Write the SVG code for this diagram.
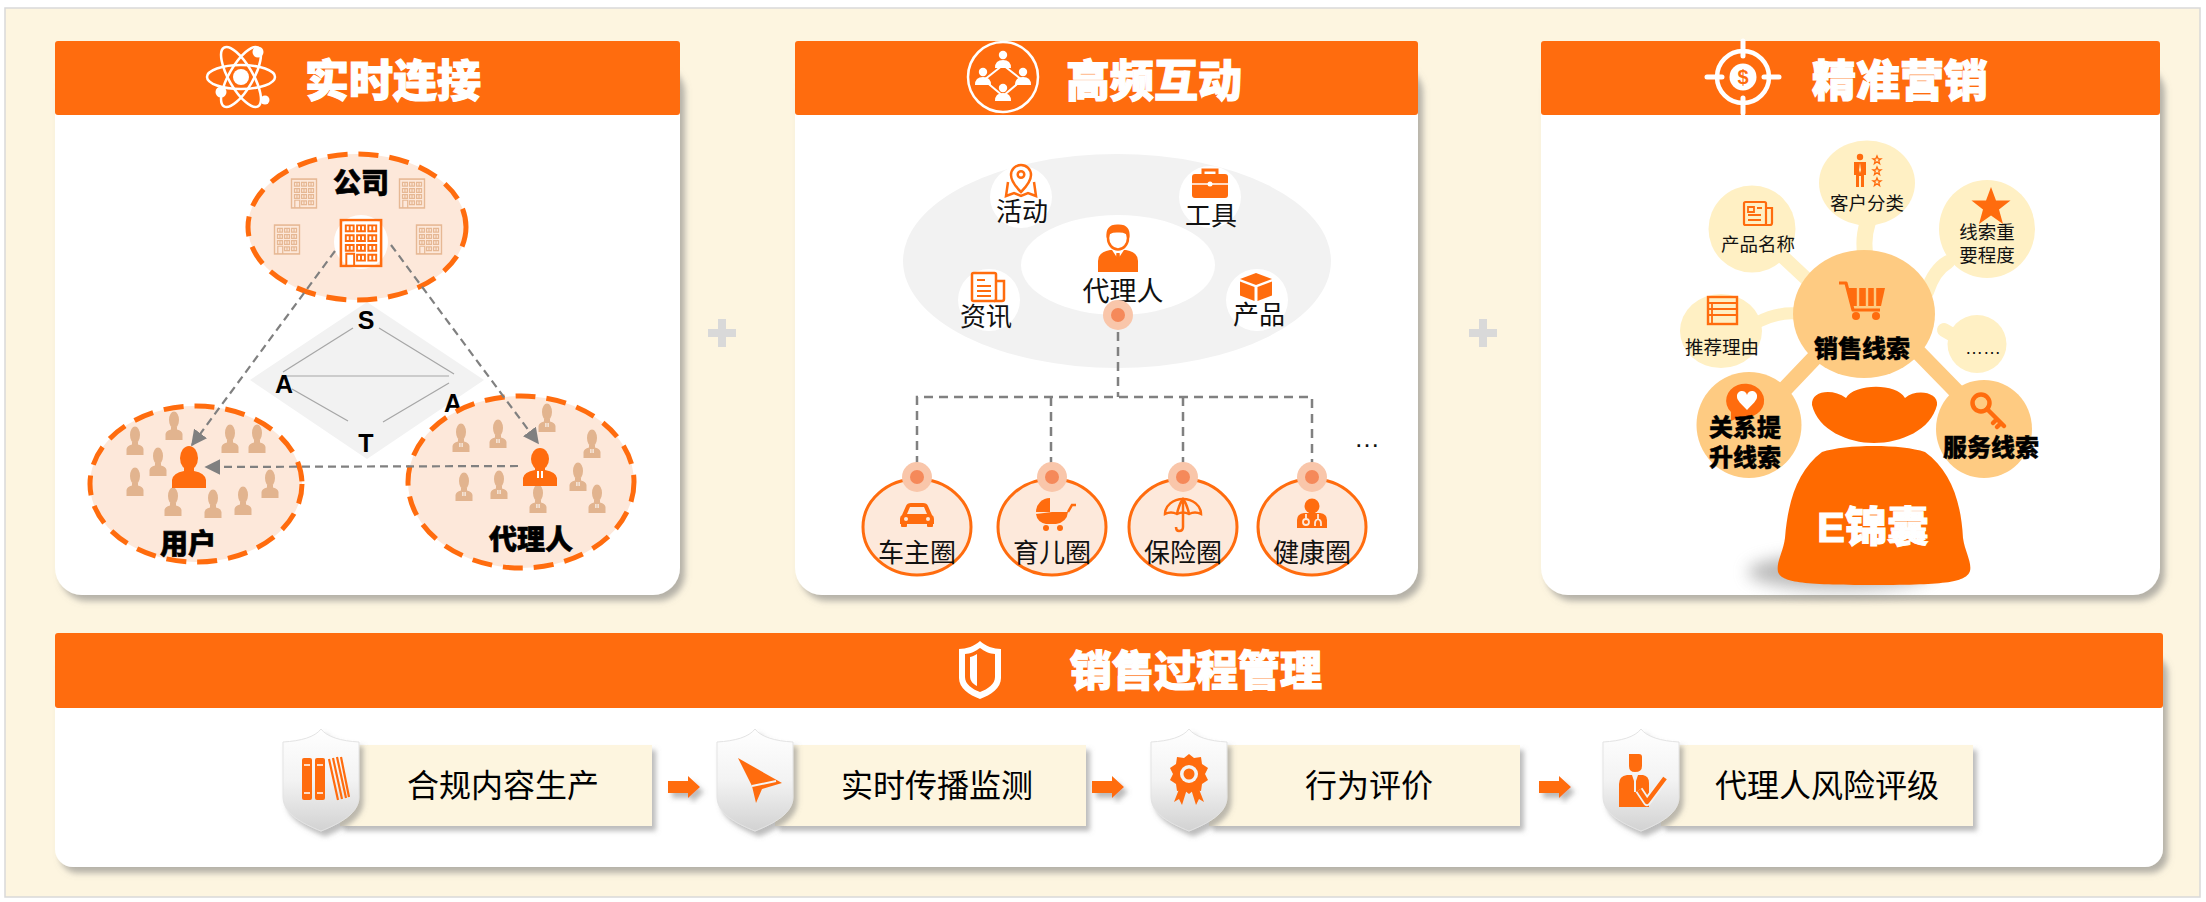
<svg xmlns="http://www.w3.org/2000/svg" width="2206" height="902" viewBox="0 0 2206 902">
<defs>
<style>
text{font-family:'Liberation Sans','Noto Sans CJK SC',sans-serif}
.hdr{fill:#FF6C0E}
.body{fill:#fff}
.ttl{font-size:44px;font-weight:900;fill:#fff;stroke:#fff;stroke-width:1.2;text-anchor:middle}
.lbl{font-size:28px;font-weight:900;fill:#000;stroke:#000;stroke-width:0.6;text-anchor:middle}
.sat{font-size:25px;font-weight:700;fill:#000;text-anchor:middle}
.t26{font-size:26px;fill:#111;text-anchor:middle}
.t18{font-size:18.5px;fill:#111;text-anchor:middle}
.b24{font-size:24px;font-weight:900;fill:#000;stroke:#000;stroke-width:0.4;text-anchor:middle}
.step{font-size:32px;fill:#000;text-anchor:middle}
.grp{fill:#FDE8DA;stroke:#FF6C0E;stroke-width:5;stroke-dasharray:20 11}
.dash{fill:none;stroke:#808080;stroke-width:2.2;stroke-dasharray:8 5}
.tree{fill:none;stroke:#808080;stroke-width:2.5;stroke-dasharray:9 6}
.satln{stroke:#A6A6A6;stroke-width:1.2}
.fp{fill:#E2B48F}
.o{fill:#FF6C0E}
.os{fill:none;stroke:#FF6C0E;stroke-width:2.5}
.w{fill:#fff}
.ws{fill:none;stroke:#fff;stroke-width:2.5}
.bub{fill:#FFF0C4}
.bub2{fill:#FECB82}
.stem{fill:none;stroke:#FFF0C4;stroke-linecap:round}
.stem2{fill:none;stroke:#FECB82;stroke-linecap:round;stroke-width:16}
.ring{fill:#FDE9DB;stroke:#FF6C0E;stroke-width:3}
.dot1{fill:#F9C6AA}
.dot2{fill:#F5895A}
.box{fill:#FDF5DF}
.plus{fill:#D9D9D9}
</style>
<filter id="sh" x="-5%" y="-5%" width="112%" height="118%">
<feDropShadow dx="5" dy="6" stdDeviation="3" flood-color="#7a7a7a" flood-opacity="0.55"/>
</filter>
<filter id="sh2" x="-20%" y="-20%" width="150%" height="150%">
<feDropShadow dx="4" dy="5" stdDeviation="2.5" flood-color="#7a7a7a" flood-opacity="0.5"/>
</filter>
<filter id="blur8" x="-50%" y="-100%" width="200%" height="300%">
<feGaussianBlur stdDeviation="8"/>
</filter>
<linearGradient id="shieldFill" x1="0" y1="0" x2="0" y2="1">
<stop offset="0" stop-color="#FFFFFF"/>
<stop offset="0.5" stop-color="#F3F3F3"/>
<stop offset="1" stop-color="#D2D2D2"/>
</linearGradient>
<marker id="ah" viewBox="0 0 10 10" refX="9" refY="5" markerWidth="16" markerHeight="16" markerUnits="userSpaceOnUse" orient="auto">
<path d="M0,0 L10,5 L0,10 Z" fill="#808080"/>
</marker>
<symbol id="bldg" viewBox="0 0 44 50">
<rect x="1.5" y="1.5" width="41" height="47" fill="none" stroke="currentColor" stroke-width="2.6"/>
<path fill="none" stroke="currentColor" stroke-width="2" d="M6.5 7h8v6h-8zM10.5 7v6M18 7h8v6h-8zM22 7v6M29.5 7h8v6h-8zM33.5 7v6M6.5 17h8v6h-8zM10.5 17v6M18 17h8v6h-8zM22 17v6M29.5 17h8v6h-8zM33.5 17v6M6.5 27h8v6h-8zM10.5 27v6M18 27h8v6h-8zM22 27v6M29.5 27h8v6h-8zM33.5 27v6M18 37h8v6h-8zM22 37v6M29.5 37h8v6h-8zM33.5 37v6M7 48.5V36h8v12.5"/>
</symbol>
<g id="pp" class="fp"><ellipse cx="0" cy="-7" rx="5" ry="8.5"/><path d="M-3,0 V2.5 Q-8,3.5 -8.5,7 V13 H8.5 V7 Q8,3.5 3,2.5 V0 Z"/></g>
<g id="pa"><use href="#pp"/><path d="M-1.6,4 L-0.6,4 L-0.6,8 L-1.6,8 Z M0.6,4 L1.6,4 L1.6,8 L0.6,8 Z" fill="#fff"/></g>
<path id="shield" d="M0,0 C6,8 20,12 38,13 V68 C38,84 20,94 0,102 C-20,94 -38,84 -38,68 V13 C-20,12 -6,8 0,0 Z"/>
<path id="arrow" d="M0,-6 H20 V-11 L32,0 L20,11 V6 H0 Z"/>
</defs>

<!-- page background -->
<rect x="5" y="8" width="2195" height="889" fill="#FDF5E0" stroke="#D9D9D9" stroke-width="1.5"/>

<!-- plus signs between the panels -->
<g id="plus-signs">
<path class="plus" d="M718,319 h8 v10 h10 v8 h-10 v10 h-8 v-10 h-10 v-8 h10 Z"/>
<path class="plus" d="M1479,319 h8 v10 h10 v8 h-10 v10 h-8 v-10 h-10 v-8 h10 Z"/>
</g>

<!-- ===== panel 1 : 实时连接 ===== -->
<g id="panel-connect">
<rect class="body" x="55" y="60" width="625" height="535" rx="27" filter="url(#sh)"/>
<rect class="hdr" x="55" y="41" width="625" height="74" rx="3"/>
<g id="icon-atom" transform="translate(241,77)">
<g class="ws">
<ellipse rx="34" ry="12"/>
<ellipse rx="34" ry="12" transform="rotate(60)"/>
<ellipse rx="34" ry="12" transform="rotate(-60)"/>
</g>
<circle r="8" class="w"/>
<circle cx="17" cy="-25" r="5.5" class="w"/>
<circle cx="-20" cy="15" r="5.5" class="w"/>
<circle cx="24" cy="23" r="4.5" class="w"/>
</g>
<text class="ttl" x="393" y="97">实时连接</text>

<!-- SAT diamond -->
<g id="sat">
<path d="M367,302 L484,380 L367,459 L250,380 Z" fill="#F2F2F2"/>
<line class="satln" x1="353" y1="328" x2="283" y2="372"/>
<line class="satln" x1="379" y1="328" x2="454" y2="374"/>
<line class="satln" x1="286" y1="376" x2="449" y2="376"/>
<line class="satln" x1="292" y1="389" x2="348" y2="421"/>
<line class="satln" x1="449" y1="383" x2="383" y2="422"/>
<text class="sat" x="366" y="329">S</text>
<text class="sat" x="284" y="393">A</text>
<text class="sat" x="453" y="412">A</text>
<text class="sat" x="366" y="452">T</text>
</g>

<g id="node-company">
<ellipse class="grp" cx="357" cy="227" rx="109" ry="73"/>
<use href="#bldg" x="290.5" y="178" width="27" height="31" color="#E6B894"/>
<use href="#bldg" x="398.5" y="178" width="27" height="31" color="#E6B894"/>
<use href="#bldg" x="273.5" y="224" width="27" height="31" color="#E6B894"/>
<use href="#bldg" x="415.5" y="224" width="27" height="31" color="#E6B894"/>
<circle cx="361" cy="242" r="27" fill="#fff"/>
<use href="#bldg" x="339" y="218.5" width="44" height="49" color="#FF6C0E"/>
<text class="lbl" x="361" y="193">公司</text>
</g>

<g id="node-user">
<ellipse class="grp" cx="196" cy="484" rx="106" ry="78"/>
<use href="#pp" x="135" y="442"/>
<use href="#pp" x="174" y="427"/>
<use href="#pp" x="230" y="440"/>
<use href="#pp" x="257" y="440"/>
<use href="#pp" x="158" y="463"/>
<use href="#pp" x="135" y="483"/>
<use href="#pp" x="173" y="503"/>
<use href="#pp" x="213" y="505"/>
<use href="#pp" x="243" y="502"/>
<use href="#pp" x="270" y="485"/>
<g class="o" transform="translate(189,468)">
<ellipse cx="0" cy="-10" rx="9" ry="12"/>
<path d="M-5,0 V3 Q-16,5 -17,12 V20 H17 V12 Q16,5 5,3 V0 Z"/>
</g>
<text class="lbl" x="188" y="554">用户</text>
</g>

<g id="node-agent">
<ellipse class="grp" cx="521" cy="482" rx="113" ry="86"/>
<use href="#pa" x="461" y="439"/>
<use href="#pa" x="498" y="435"/>
<use href="#pa" x="547" y="419"/>
<use href="#pa" x="592" y="445"/>
<use href="#pa" x="464" y="488"/>
<use href="#pa" x="499" y="486"/>
<use href="#pa" x="538" y="500"/>
<use href="#pa" x="578" y="478"/>
<use href="#pa" x="597" y="500"/>
<g transform="translate(540,468)">
<ellipse class="o" cx="0" cy="-9" rx="9" ry="11"/>
<path class="o" d="M-5,0 V2 Q-16,4 -17,10 V18 H17 V10 Q16,4 5,2 V0 Z"/>
<path d="M-3,3 L-1,3 L-1,10 L-3,10 Z M1,3 L3,3 L3,10 L1,10 Z" fill="#fff"/>
</g>
<text class="lbl" x="531" y="550">代理人</text>
</g>

<g id="links-connect">
<line class="dash" x1="335" y1="251" x2="192" y2="445" marker-end="url(#ah)"/>
<line class="dash" x1="391" y1="245" x2="538" y2="443" marker-end="url(#ah)"/>
<line class="dash" x1="518" y1="466" x2="206" y2="467" marker-end="url(#ah)"/>
</g>
</g>

<!-- ===== panel 2 : 高频互动 ===== -->
<g id="panel-interact">
<rect class="body" x="795" y="60" width="623" height="535" rx="27" filter="url(#sh)"/>
<rect class="hdr" x="795" y="41" width="623" height="74" rx="3"/>
<g id="icon-network" transform="translate(1003,77)">
<circle r="35" class="ws"/>
<path d="M0,-12 L-19,3 L0,19 L19,3 Z" fill="none" stroke="#fff" stroke-width="2"/>
<g class="w">
<g transform="translate(0,-17)"><circle cy="-5" r="4.2"/><path d="M-8,8 Q-8,0 0,0 Q8,0 8,8 Z"/></g>
<g transform="translate(-20,0)"><circle cy="-5" r="4.2"/><path d="M-8,8 Q-8,0 0,0 Q8,0 8,8 Z"/></g>
<g transform="translate(20,0)"><circle cy="-5" r="4.2"/><path d="M-8,8 Q-8,0 0,0 Q8,0 8,8 Z"/></g>
<g transform="translate(0,16)"><circle cy="-5" r="4.2"/><path d="M-8,8 Q-8,0 0,0 Q8,0 8,8 Z"/></g>
</g>
</g>
<text class="ttl" x="1154" y="97">高频互动</text>

<ellipse cx="1117" cy="261" rx="214" ry="107" fill="#F2F2F2"/>
<ellipse cx="1118" cy="265" rx="97" ry="50" fill="#fff"/>

<g id="node-activity">
<circle cx="1021" cy="197" r="31" fill="#fff"/>
<path class="os" d="M1021,192 C1014,185 1011,180 1011,175 A10,10 0 1 1 1031,175 C1031,180 1028,185 1021,192 Z"/>
<circle class="os" cx="1021" cy="174.5" r="3.3"/>
<path class="os" d="M1008,182 L1006,196 L1014,193 L1021,196 L1028,193 L1036,196 L1034,182"/>
<text class="t26" x="1022" y="221">活动</text>
</g>
<g id="node-tools">
<circle cx="1210" cy="197" r="31" fill="#fff"/>
<path d="M1203,175 V170 H1217 V175" fill="none" stroke="#FF6C0E" stroke-width="3"/>
<rect class="o" x="1192" y="174" width="36" height="24" rx="3"/>
<line x1="1192" y1="184" x2="1228" y2="184" stroke="#fff" stroke-width="1.5"/>
<circle cx="1210" cy="184" r="2.5" fill="#fff"/>
<text class="t26" x="1211" y="225">工具</text>
</g>
<g id="node-news">
<circle cx="989" cy="300" r="31" fill="#fff"/>
<rect class="os" x="972" y="273" width="24" height="28" rx="1.5"/>
<path class="os" d="M996,281 H1004 V299 Q1004,301 1002,301 H994"/>
<path d="M977,280 h8 M977,286 h14 M977,291 h14 M977,296 h14" stroke="#FF6C0E" stroke-width="2"/>
<text class="t26" x="986" y="326">资讯</text>
</g>
<g id="node-product">
<circle cx="1257" cy="300" r="31" fill="#fff"/>
<path class="o" d="M1256,273 L1272,279 L1256,285 L1240,279 Z"/>
<path class="o" d="M1240,281.5 L1254.5,287 V301 L1240,295.5 Z"/>
<path class="o" d="M1257.5,287 L1272,281.5 V295.5 L1257.5,301 Z"/>
<text class="t26" x="1259" y="324">产品</text>
</g>
<g id="node-agent2">
<g transform="translate(1118,249)">
<path class="o" d="M-20,23 V12 Q-20,3 -8,1 H8 Q20,3 20,12 V23 Z"/>
<path d="M-6,1 L0,10 L6,1 Z" fill="#fff"/>
<path class="o" d="M-1.6,4 H1.6 L2.2,12 L0,14.5 L-2.2,12 Z"/>
<ellipse cx="0" cy="-11" rx="10" ry="11.5" fill="#fff" stroke="#FF6C0E" stroke-width="2.5"/>
<path class="o" d="M-11.5,-11 Q-13,-25 0,-24.5 Q13,-25 11.5,-11 Q9,-17 0,-16.5 Q-9,-17 -11.5,-11 Z"/>
</g>
<text class="t26" style="font-size:27px" x="1123" y="301">代理人</text>
<circle class="dot1" cx="1118" cy="315" r="15"/>
<circle class="dot2" cx="1118" cy="315" r="7"/>
</g>

<g id="links-interact">
<path class="tree" d="M1118,332 V397 M917,465 V397 H1312 V465 M1051,397 V465 M1183,397 V465"/>
</g>

<g id="node-car">
<ellipse class="ring" cx="917" cy="527" rx="54" ry="48"/>
<circle class="dot1" cx="917" cy="477" r="15"/><circle class="dot2" cx="917" cy="477" r="7"/>
<g transform="translate(917,514)">
<path class="o" d="M-15,1 L-11,-8 Q-10,-11 -6,-11 H6 Q10,-11 11,-8 L15,1 Q17,2 17,5 V10 H-17 V5 Q-17,2 -15,1 Z"/>
<path d="M-10,0 L-7,-7 H7 L10,0 Z" fill="#FDE9DB"/>
<circle cx="-11" cy="5" r="2" fill="#FDE9DB"/><circle cx="11" cy="5" r="2" fill="#FDE9DB"/>
<rect class="o" x="-16" y="9" width="6" height="4" rx="1"/><rect class="o" x="10" y="9" width="6" height="4" rx="1"/>
</g>
<text class="t26" x="917" y="562">车主圈</text>
</g>
<g id="node-baby">
<ellipse class="ring" cx="1052" cy="527" rx="54" ry="48"/>
<circle class="dot1" cx="1052" cy="477" r="15"/><circle class="dot2" cx="1052" cy="477" r="7"/>
<g transform="translate(1052,514)">
<path class="o" d="M-2,-16 A14,14 0 0 0 -16,-2 H-2 Z"/>
<path class="o" d="M0,-2 H16 Q15,8 4,10 H-6 Q-15,8 -16,0 Z"/>
<path class="os" d="M16,-2 L20,-9 H24"/>
<circle class="o" cx="-6" cy="14" r="3"/><circle class="o" cx="8" cy="14" r="3"/>
</g>
<text class="t26" x="1052" y="562">育儿圈</text>
</g>
<g id="node-insurance">
<ellipse class="ring" cx="1183" cy="527" rx="54" ry="48"/>
<circle class="dot1" cx="1183" cy="477" r="15"/><circle class="dot2" cx="1183" cy="477" r="7"/>
<g transform="translate(1183,514)" class="os">
<path d="M-18,0 A18,15 0 0 1 18,0 Q12,-3 6,0 Q0,-3 -6,0 Q-12,-3 -18,0 Z"/>
<path d="M0,-15 V0 M-6,0 Q-4,-10 0,-15 Q4,-10 6,0"/>
<path d="M0,0 V13 Q0,17 -4,17 Q-7,17 -7,13"/>
</g>
<text class="t26" x="1183" y="562">保险圈</text>
</g>
<g id="node-health">
<ellipse class="ring" cx="1312" cy="527" rx="54" ry="48"/>
<circle class="dot1" cx="1312" cy="477" r="15"/><circle class="dot2" cx="1312" cy="477" r="7"/>
<g transform="translate(1312,514)">
<circle class="o" cx="0" cy="-8" r="7.5"/>
<path class="o" d="M-15,14 V6 Q-15,0 -8,-1 H8 Q15,0 15,6 V14 Z"/>
<path d="M-6,0 V6 M-9,8 A3,3 0 1 0 -3,8 A3,3 0 1 0 -9,8 M6,0 V5 Q3,6 3,9 V12 M6,5 Q9,6 9,9 V12" fill="none" stroke="#FDE9DB" stroke-width="1.8"/>
</g>
<text class="t26" x="1312" y="562">健康圈</text>
</g>
<text x="1367" y="447" style="font-size:26px;fill:#111;text-anchor:middle">…</text>
</g>

<!-- ===== panel 3 : 精准营销 ===== -->
<g id="panel-marketing">
<rect class="body" x="1541" y="60" width="619" height="535" rx="27" filter="url(#sh)"/>
<rect class="hdr" x="1541" y="41" width="619" height="74" rx="3"/>
<g id="icon-target" transform="translate(1743,77)">
<circle r="26" fill="none" stroke="#fff" stroke-width="4.5"/>
<path d="M0,-36 V-21 M0,21 V36 M-36,0 H-21 M21,0 H36" stroke="#fff" stroke-width="5" stroke-linecap="round"/>
<circle r="13.5" fill="#fff"/>
<text x="0" y="7" style="font-size:20px;font-weight:700;fill:#FF6C0E;text-anchor:middle">$</text>
</g>
<text class="ttl" x="1900" y="97">精准营销</text>

<!-- bag shadow -->
<ellipse cx="1840" cy="572" rx="92" ry="18" fill="#8c8c8c" opacity="0.6" filter="url(#blur8)"/>

<g id="stems">
<path class="stem" stroke-width="16" d="M1868,222 Q1862,240 1866,258"/>
<path class="stem" stroke-width="14" d="M1782,256 L1812,284"/>
<path class="stem" stroke-width="14" d="M1948,262 Q1934,270 1927,292"/>
<path class="stem" stroke-width="12" d="M1758,322 Q1780,311 1800,314"/>
<path class="stem" stroke-width="14" d="M1944,330 L1958,338"/>
<path class="stem2" d="M1782,392 L1822,350"/>
<path class="stem2" d="M1918,352 L1960,395"/>
</g>

<g id="node-customer">
<ellipse class="bub" cx="1867" cy="183" rx="48" ry="42.5"/>
<g class="o">
<circle cx="1860" cy="157" r="3.2"/>
<path d="M1854,162 H1866 V175 H1864 V187 H1861 V176 H1859 V187 H1856 V175 H1854 Z"/>
</g>
<path d="M1860,163 L1859,170 L1860,173 L1861,170 Z" fill="#FFF0C4"/>
<g fill="none" stroke="#FF6C0E" stroke-width="1.3">
<path transform="translate(1877,160)" d="M0,-4 L1.2,-1.2 L4,-1.2 L1.8,0.6 L2.6,3.6 L0,1.8 L-2.6,3.6 L-1.8,0.6 L-4,-1.2 L-1.2,-1.2 Z"/>
<path transform="translate(1877,171)" d="M0,-4 L1.2,-1.2 L4,-1.2 L1.8,0.6 L2.6,3.6 L0,1.8 L-2.6,3.6 L-1.8,0.6 L-4,-1.2 L-1.2,-1.2 Z"/>
<path transform="translate(1877,182)" d="M0,-4 L1.2,-1.2 L4,-1.2 L1.8,0.6 L2.6,3.6 L0,1.8 L-2.6,3.6 L-1.8,0.6 L-4,-1.2 L-1.2,-1.2 Z"/>
</g>
<text class="t18" x="1867" y="210">客户分类</text>
</g>
<g id="node-pname">
<ellipse class="bub" cx="1752" cy="229" rx="43.5" ry="43.5"/>
<rect x="1744" y="202" width="22" height="23" rx="1.5" fill="none" stroke="#FF6C0E" stroke-width="2.2"/>
<path d="M1766,208 H1772 V223 Q1772,225 1770,225 H1764" fill="none" stroke="#FF6C0E" stroke-width="2.2"/>
<path d="M1748,207 h6 v5 h-6 z M1757,208 h5 M1748,215 h13 M1748,220 h13" fill="none" stroke="#FF6C0E" stroke-width="1.8"/>
<text class="t18" x="1758" y="251">产品名称</text>
</g>
<g id="node-priority">
<ellipse class="bub" cx="1987" cy="229" rx="48" ry="49"/>
<path class="o" transform="translate(1991,207)" d="M0,-20 L5,-6.5 L19.5,-6.5 L8,2.5 L12,17 L0,8.5 L-12,17 L-8,2.5 L-19.5,-6.5 L-5,-6.5 Z"/>
<text class="t18" x="1987" y="239">线索重</text>
<text class="t18" x="1987" y="262">要程度</text>
</g>
<g id="node-reason">
<ellipse class="bub" cx="1721" cy="331" rx="41" ry="37"/>
<rect x="1708" y="297" width="29" height="27" fill="none" stroke="#FF6C0E" stroke-width="2.4"/>
<path d="M1708,303 H1737 M1708,309 H1737 M1708,315 H1737 M1712,303 V324" fill="none" stroke="#FF6C0E" stroke-width="1.8"/>
<text class="t18" x="1722" y="354">推荐理由</text>
</g>
<g id="node-more">
<ellipse class="bub" cx="1977" cy="344" rx="29.5" ry="29"/>
<text x="1983" y="354" style="font-size:18px;fill:#111;text-anchor:middle">……</text>
</g>

<g id="node-leads">
<ellipse class="bub2" cx="1864" cy="314" rx="71" ry="64"/>
<g transform="translate(1862,300)">
<path d="M-23,-17 H-16 L-9,10 H18" fill="none" stroke="#FF6C0E" stroke-width="3.2" stroke-linejoin="round"/>
<path class="o" d="M-14,-12 H23 L19,6 H-10 Z"/>
<path d="M-4,-12 V6 M5,-12 V6 M13,-12 V6" stroke="#FECB82" stroke-width="2.4"/>
<circle class="o" cx="-6" cy="16" r="4"/><circle class="o" cx="14" cy="16" r="4"/>
</g>
<text class="b24" x="1862" y="357">销售线索</text>
</g>
<g id="node-relation">
<ellipse class="bub2" cx="1749" cy="425" rx="52.5" ry="53"/>
<path class="o" d="M1731,412 A19,17 0 1 1 1740,417 L1731,421 Z"/>
<path d="M1747,410 C1741,404 1737,400 1737,397 A4.5,4.5 0 0 1 1747,395 A4.5,4.5 0 0 1 1757,397 C1757,400 1753,404 1747,410 Z" fill="#fff"/>
<text class="b24" x="1745" y="436">关系提</text>
<text class="b24" x="1745" y="466">升线索</text>
</g>
<g id="node-service">
<ellipse class="bub2" cx="1984" cy="429" rx="48" ry="49"/>
<g transform="translate(1989,411)">
<circle cx="-8" cy="-8" r="8.5" fill="none" stroke="#FF6C0E" stroke-width="4.5"/>
<path d="M-2,-2 L15,15 M8,8 L4,12 M12,12 L8,16" fill="none" stroke="#FF6C0E" stroke-width="4.5" stroke-linecap="round"/>
</g>
<text class="b24" x="1991" y="456">服务线索</text>
</g>

<g id="node-bag">
<path fill="#FF6A00" d="M1812,405 C1811,391 1832,388 1846,398 C1853,384 1896,382 1905,398 C1916,388 1939,392 1937,405 C1931,430 1901,443 1874,443 C1848,443 1818,430 1812,405 Z"/>
<path fill="#FF6A00" d="M1822,452 C1846,444 1902,444 1925,452 C1950,470 1961,500 1963,538 C1965,552 1972,562 1970,571 C1966,582 1948,585 1874,585 C1800,585 1782,582 1778,572 C1776,562 1783,553 1785,538 C1788,500 1798,470 1822,452 Z"/>
<text x="1873" y="542" style="font-size:42px;font-weight:900;fill:#fff;stroke:#fff;stroke-width:1;text-anchor:middle">E锦囊</text>
</g>
</g>

<!-- ===== panel 4 : 销售过程管理 ===== -->
<g id="panel-process">
<rect class="body" x="55" y="650" width="2108" height="217" rx="18" filter="url(#sh)"/>
<rect class="hdr" x="55" y="633" width="2108" height="75" rx="3"/>
<g id="icon-shield" transform="translate(980,641)">
<path d="M0,0 C5,5 14,8 21,8 V37 C21,47 11,54 0,58 C-11,54 -21,47 -21,37 V8 C-14,8 -5,5 0,0 Z" fill="#fff"/>
<path d="M0,7 C4,10 10,13 15,13 V36 C15,43 8,48 0,51 C-8,48 -15,43 -15,36 V13 C-10,13 -4,10 0,7 Z" fill="#FF6C0E"/>
<path d="M-3,13 C-6,15 -9,16 -10,16 V35 C-10,40 -7,43 -3,45 Z" fill="#fff"/>
</g>
<text class="ttl" style="font-size:42px" x="1196" y="686">销售过程管理</text>

<g id="step-content">
<rect class="box" x="340" y="745" width="312" height="81" filter="url(#sh2)"/>
<use href="#shield" x="321" y="729" fill="url(#shieldFill)" stroke="#E3E3E3" stroke-width="1" filter="url(#sh2)"/>
<g class="o">
<rect x="302" y="758" width="10" height="42" rx="2"/>
<rect x="315" y="758" width="10" height="42" rx="2"/>
</g>
<path d="M304,765 h6 M304,793 h6 M317,765 h6 M317,793 h6" stroke="#fff" stroke-width="1.5"/>
<path d="M329,759 L338,800 M333,758 L342,799 M337,757 L346,798 M341,757 L349,797" stroke="#FF6C0E" stroke-width="2.2"/>
<text class="step" x="503" y="797">合规内容生产</text>
</g>
<use href="#arrow" x="668" y="787" fill="#FF6C0E" filter="url(#sh2)"/>

<g id="step-monitor">
<rect class="box" x="775" y="745" width="311" height="81" filter="url(#sh2)"/>
<use href="#shield" x="755" y="729" fill="url(#shieldFill)" stroke="#E3E3E3" stroke-width="1" filter="url(#sh2)"/>
<path class="o" d="M738,758 L782,783 L762,789 L756,803 L752,786 Z"/>
<path d="M752,786 L776,781" stroke="#F4F4F4" stroke-width="2"/>
<text class="step" x="937" y="797">实时传播监测</text>
</g>
<use href="#arrow" x="1092" y="787" fill="#FF6C0E" filter="url(#sh2)"/>

<g id="step-evaluate">
<rect class="box" x="1209" y="745" width="311" height="81" filter="url(#sh2)"/>
<use href="#shield" x="1189" y="729" fill="url(#shieldFill)" stroke="#E3E3E3" stroke-width="1" filter="url(#sh2)"/>
<g transform="translate(1189,774)">
<path class="o" d="M-8,10 L-15,28 L-10,25 L-7,31 L-2,15 Z M8,10 L15,28 L10,25 L7,31 L2,15 Z"/>
<path class="o" d="M0,-20 L5,-16 L12,-17 L13,-10 L19,-6 L16,0 L19,6 L13,10 L12,17 L5,16 L0,20 L-5,16 L-12,17 L-13,10 L-19,6 L-16,0 L-19,-6 L-13,-10 L-12,-17 L-5,-16 Z"/>
<circle r="9" fill="#F4F4F4"/>
<circle r="5.5" class="o"/>
</g>
<text class="step" x="1369" y="797">行为评价</text>
</g>
<use href="#arrow" x="1539" y="787" fill="#FF6C0E" filter="url(#sh2)"/>

<g id="step-risk">
<rect class="box" x="1661" y="745" width="312" height="81" filter="url(#sh2)"/>
<use href="#shield" x="1641" y="729" fill="url(#shieldFill)" stroke="#E3E3E3" stroke-width="1" filter="url(#sh2)"/>
<g transform="translate(1641,780)">
<path class="o" d="M-12,-26 H-2 Q1,-26 1,-23 V-14 Q1,-8 -6,-8 Q-12,-8 -12,-14 Z"/>
<path class="o" d="M-22,27 V4 Q-22,-4 -14,-5 H2 Q8,-4 8,3 V27 Z"/>
<path d="M-9,-5 L-6,4 L-3,-5 Z" fill="#F2F2F2"/>
<path d="M-6,-1 V12" stroke="#F2F2F2" stroke-width="2"/>
<path d="M-2,10 L6,22 L24,-2" fill="none" stroke="#F2F2F2" stroke-width="8" stroke-linejoin="round"/>
<path d="M-2,10 L6,22 L24,-2" fill="none" stroke="#FF6C0E" stroke-width="4.5" stroke-linejoin="round"/>
</g>
<text class="step" x="1827" y="797">代理人风险评级</text>
</g>
</g>
</svg>
